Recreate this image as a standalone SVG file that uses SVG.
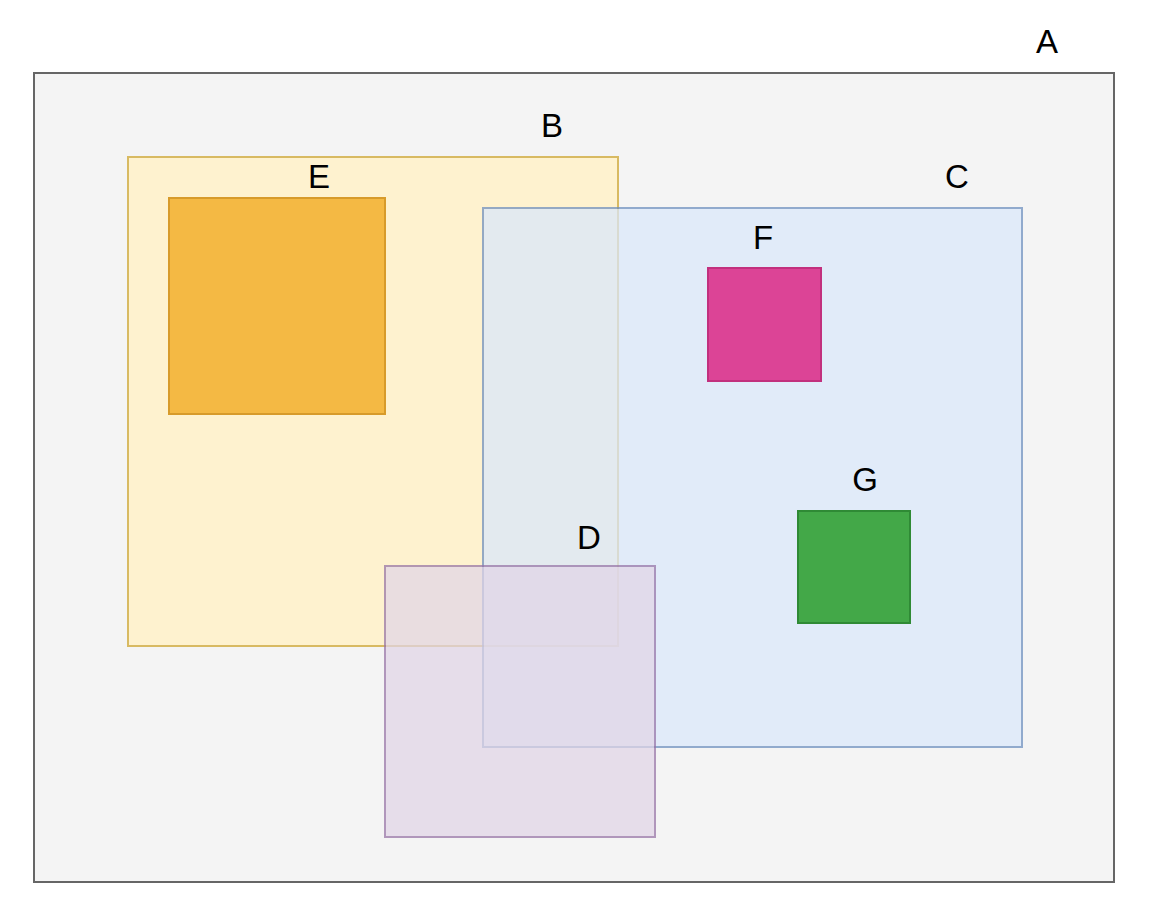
<svg xmlns="http://www.w3.org/2000/svg" width="1174" height="918" viewBox="0 0 1174 918">
<style>
text{font-family:"Liberation Sans",Arial,sans-serif;font-size:33px;fill:#000;text-anchor:middle}
rect{stroke-width:2}
</style>
<rect x="0" y="0" width="1174" height="918" fill="#ffffff"/>
<g id="A"><rect x="34" y="73" width="1080" height="809" fill="#f4f4f4" stroke="#666666"/><text x="1047" y="53">A</text></g>
<g id="B" opacity="0.92"><rect x="128" y="157" width="490" height="489" fill="#fff2cc" stroke="#d6b656"/></g>
<text x="552" y="137">B</text>
<g id="C" opacity="0.72"><rect x="483" y="208" width="539" height="539" fill="#dae8fc" stroke="#6c8ebf"/></g>
<text x="957" y="188">C</text>
<g id="E"><rect x="169" y="198" width="216" height="216" fill="#f4b944" stroke="#d79b2b"/><text x="319" y="188">E</text></g>
<g id="F"><rect x="708" y="268" width="113" height="113" fill="#dc4496" stroke="#c2307e"/><text x="763" y="249">F</text></g>
<g id="G"><rect x="798" y="511" width="112" height="112" fill="#43a848" stroke="#2f8a35"/><text x="865" y="491">G</text></g>
<g id="D" opacity="0.72"><rect x="385" y="566" width="270" height="271" fill="#e1d5e7" stroke="#9673a6"/></g>
<text x="589" y="549">D</text>
<g id="connectors"/>
</svg>
